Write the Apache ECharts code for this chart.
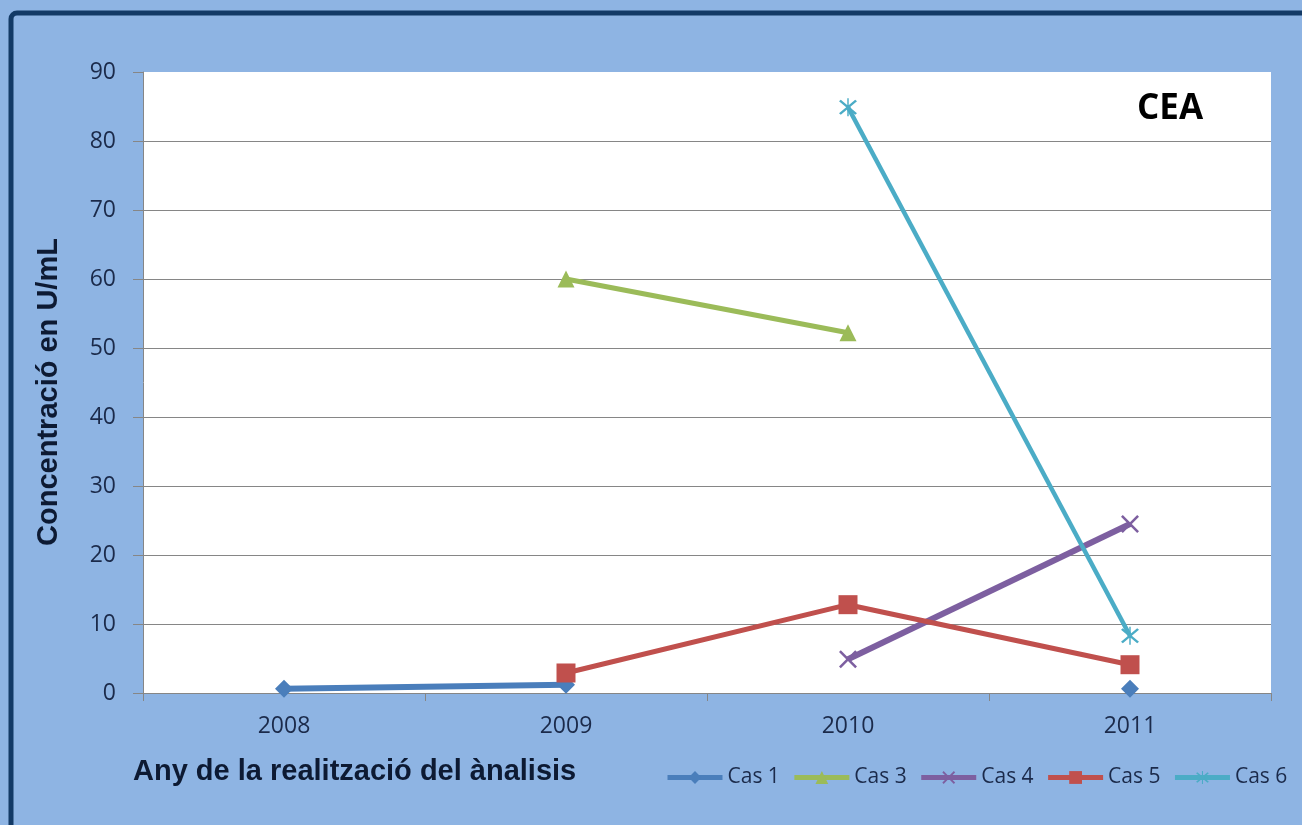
<!DOCTYPE html>
<html>
<head>
<meta charset="utf-8">
<script src="https://cdn.jsdelivr.net/npm/echarts@6/dist/echarts.min.js"></script>
<style>
  html, body { margin: 0; padding: 0; background: #8EB4E3; }
  #chart { width: 1302px; height: 825px; }
</style>
</head>
<body>
<div id="chart"></div>
<script>
// Years of analysis and CEA concentration (U/mL) per case
const years = ['2008', '2009', '2010', '2011'];
const cas1 = [0.6, 1.2, null, 0.6];
const cas3 = [null, 60, 52.2, null];
const cas4 = [null, null, 4.9, 24.5];
const cas5 = [null, 2.9, 12.8, 4.1];
const cas6 = [null, null, 84.9, 8.3];
const yTicks = [0, 10, 20, 30, 40, 50, 60, 70, 80, 90];

// Marker shapes: an "x" cross and an asterisk (cross with a vertical bar)
const crossPath = 'path://M2,0 L10,8 L18,0 L20,2 L12,10 L20,18 L18,20 L10,12 L2,20 L0,18 L8,10 L0,2 Z';
const starPath = 'path://M2,0 L10,8 L18,0 L20,2 L12,10 L20,18 L18,20 L10,12 L2,20 L0,18 L8,10 L0,2 Z M9.2,-2 L10.8,-2 L10.8,22 L9.2,22 Z';

const labelFont = '"Open Sans", "Liberation Sans", sans-serif';
const titleFont = '"Liberation Sans", Arial, sans-serif';
const textColor = '#1B2A4A';

function makeSeries(name, data, color, symbol, size, width) {
  return {
    name: name,
    type: 'line',
    data: data,
    connectNulls: false,
    symbol: symbol,
    symbolSize: size,
    showAllSymbol: true,
    lineStyle: { color: color, width: width },
    itemStyle: { color: color },
    emphasis: { disabled: true },
    z: 3
  };
}

const chart = echarts.init(document.getElementById('chart'), null, { renderer: 'canvas' });
chart.setOption({
  backgroundColor: '#8EB4E3',
  animation: false,
  textStyle: { fontFamily: labelFont },
  graphic: [
    {
      type: 'rect',
      shape: { x: 11, y: 13, width: 1320, height: 840, r: 6 },
      style: { fill: 'none', stroke: '#133A66', lineWidth: 5 },
      z: 10
    },
    {
      type: 'text',
      x: 1137, y: 109,
      style: {
        text: 'CEA', font: 'bold 35px "Open Sans", sans-serif',
        fill: '#000000', verticalAlign: 'middle', align: 'left'
      },
      z: 10
    },
    {
      type: 'text',
      x: 133, y: 772,
      style: {
        text: 'Any de la realització del ànalisis',
        font: 'bold 29px ' + titleFont,
        fill: '#0D1A33', verticalAlign: 'middle', align: 'left'
      },
      z: 10
    },
    {
      type: 'text',
      x: 49, y: 392,
      rotation: Math.PI / 2,
      style: {
        text: 'Concentració en U/mL',
        font: 'bold 29px ' + titleFont,
        fill: '#0D1A33', verticalAlign: 'middle', align: 'center'
      },
      z: 10
    }
  ],
  grid: { left: 143, right: 31, top: 72, bottom: 132, backgroundColor: '#FFFFFF', show: true, borderWidth: 0 },
  xAxis: {
    type: 'category',
    data: years,
    boundaryGap: true,
    axisLine: { show: true, lineStyle: { color: '#868686', width: 1 } },
    axisTick: { show: true, alignWithLabel: false, length: 8, lineStyle: { color: '#868686' } },
    axisLabel: { color: textColor, fontSize: 23, margin: 22, fontFamily: labelFont }
  },
  yAxis: {
    type: 'value',
    min: 0, max: 90, interval: 10,
    axisLine: { show: true, lineStyle: { color: '#868686', width: 1 } },
    axisTick: { show: true, length: 10, lineStyle: { color: '#868686' } },
    splitLine: { show: true, showMaxLine: false, lineStyle: { color: '#868686', width: 1 } },
    axisLabel: {
      color: textColor, fontSize: 23, margin: 27, fontFamily: labelFont,
      formatter: function (v) { return yTicks.indexOf(v) >= 0 ? String(v) : ''; }
    }
  },
  legend: {
    left: 665, top: 767, width: 700, padding: 0,
    itemWidth: 55, itemHeight: 16, itemGap: 12,
    lineStyle: { width: 5 },
    textStyle: { color: textColor, fontSize: 21, fontFamily: labelFont },
    data: ['Cas 1', 'Cas 3', 'Cas 4', 'Cas 5', 'Cas 6']
  },
  series: [
    makeSeries('Cas 1', cas1, '#4A7EBB', 'diamond', 18, 6),
    makeSeries('Cas 3', cas3, '#9BBB59', 'triangle', 17, 5),
    makeSeries('Cas 4', cas4, '#7D5FA0', crossPath, 18, 6),
    makeSeries('Cas 5', cas5, '#C0504D', 'rect', 19, 5),
    makeSeries('Cas 6', cas6, '#4BACC6', starPath, 18, 4.5)
  ]
});
</script>
</body>
</html>
